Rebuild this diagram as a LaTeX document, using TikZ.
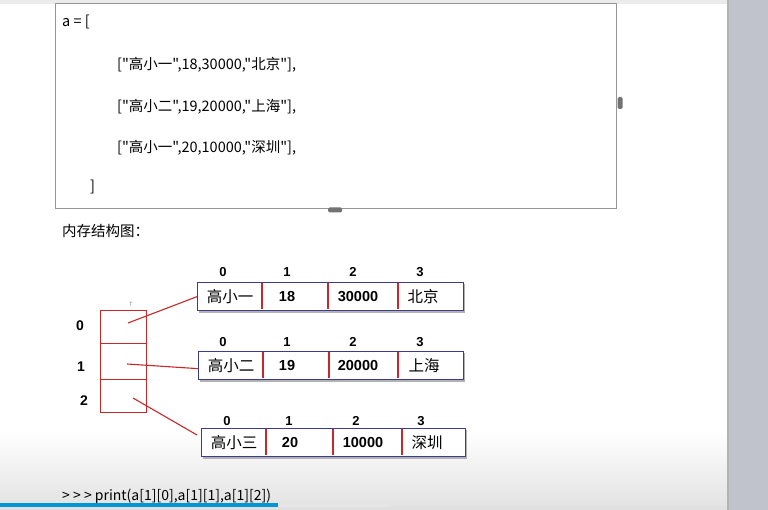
\documentclass[tikz,border=0pt]{standalone}
\usepackage{fontspec}
\setmainfont{Liberation Sans}
\newfontfamily\cjk{Noto Sans CJK SC}
\usetikzlibrary{calc}
\definecolor{navy}{RGB}{60,60,140}
\definecolor{cellred}{RGB}{200,40,40}
\definecolor{panel}{RGB}{192,194,204}
\definecolor{boxgray}{RGB}{150,150,150}
\definecolor{barblue}{RGB}{0,150,214}
\tikzset{
  rowbox/.style={draw=navy,line width=1.3pt,fill=white,minimum height=28pt,inner sep=0pt,anchor=north west},
  celltxt/.style={font=\bfseries\fontsize{14.5}{14.5}\selectfont,inner sep=0pt},
  cjktxt/.style={font=\cjk\fontsize{15.5}{15.5}\selectfont,inner sep=0pt},
  idx/.style={font=\bfseries\fontsize{13}{13}\selectfont,inner sep=0pt},
  code/.style={font=\cjk\fontsize{14.5}{14.5}\selectfont,inner sep=0pt,anchor=west},
  stackcell/.style={draw=cellred,line width=0.9pt,minimum width=46pt,inner sep=0pt,anchor=north west},
  link/.style={draw=cellred,line width=1.1pt},
  divider/.style={draw=cellred,line width=1.1pt},
}
\begin{document}
\begin{tikzpicture}[x=1pt,y=-1pt]
\useasboundingbox (0,0) rectangle (768,510);
% background
\fill[white] (0,0) rectangle (768,510);
\shade[top color=white,bottom color=black!11] (0,430) rectangle (727,506);
\fill[black!8] (0,0) rectangle (727,4);
\fill[black!12] (0,506) rectangle (727,510);
\fill[panel] (727,0) rectangle (768,510);
\fill[black!30] (727,0) rectangle (729,510);
% code box
\draw[boxgray,line width=0.9pt] (55,3) rectangle (616,208);
\node[fill=black!55,rounded corners=1.5pt,minimum width=5pt,minimum height=12pt,inner sep=0pt] (hr) at (620,103) {};
\node[fill=black!55,rounded corners=1.5pt,minimum width=14pt,minimum height=5pt,inner sep=0pt] (hb) at (335,210) {};
\node[font=\fontsize{5}{5}\selectfont,text=black!50,inner sep=0pt] (hc) at (621,212) {$\cdot$};
\node[code] (c0) at (62,22) {a = [};
\node[code] (c1) at (117,65) {["高小一",18,30000,"北京"],};
\node[code] (c2) at (117,107) {["高小二",19,20000,"上海"],};
\node[code] (c3) at (117,148) {["高小一",20,10000,"深圳"],};
\node[code] (c4) at (90,187) {]};
\node[code] (title) at (62,231) {内存结构图：};
% stack
\node[stackcell,minimum height=33pt] (s0) at (100,310) {};
\node[stackcell,minimum height=36pt] (s1) at (100,343) {};
\node[stackcell,minimum height=33pt] (s2) at (100,379) {};
\node[font=\fontsize{6}{6}\selectfont,text=black!45,inner sep=0pt] (tmark) at (131,304) {T};
\node[idx,font=\bfseries\fontsize{14}{14}\selectfont] (i0) at (80,326) {0};
\node[idx,font=\bfseries\fontsize{14}{14}\selectfont] (i1) at (81,367) {1};
\node[idx,font=\bfseries\fontsize{14}{14}\selectfont] (i2) at (84,401) {2};
\coordinate (p0) at (128,323);
\coordinate (p1) at (127,364);
\coordinate (p2) at (133,398);
% rows
\foreach \r/\x/\y/\w in {1/197/282/266, 2/198/351/265, 3/201/428/264}{
  \fill[black!30] (\x+2,\y+2) rectangle (\x+\w+2,\y+31);
  \node[rowbox,minimum width=\w pt] (r\r) at (\x,\y) {};
}
% dividers
\foreach \r/\a/\b/\c/\y in {1/262/328/398/282, 2/263/329/398/351, 3/266/333/402/428}{
  \draw[divider] (\a,\y+1) -- (\a,\y+27);
  \draw[divider] (\b,\y+1) -- (\b,\y+27);
  \draw[divider] (\c,\y+1) -- (\c,\y+27);
}
% row 1
\node[cjktxt] (a10) at (230,297) {高小一};
\node[celltxt] (a11) at (287,297) {18};
\node[celltxt] (a12) at (358,297) {30000};
\node[cjktxt] (a13) at (423,297) {北京};
\node[idx] (h10) at (223,272) {0};
\node[idx] (h11) at (287,272) {1};
\node[idx] (h12) at (353,272) {2};
\node[idx] (h13) at (420,272) {3};
% row 2
\node[cjktxt] (a20) at (231,366) {高小二};
\node[celltxt] (a21) at (287,366) {19};
\node[celltxt] (a22) at (358,366) {20000};
\node[cjktxt] (a23) at (424,366) {上海};
\node[idx] (h20) at (223,342) {0};
\node[idx] (h21) at (287,342) {1};
\node[idx] (h22) at (353,342) {2};
\node[idx] (h23) at (420,342) {3};
% row 3
\node[cjktxt] (a30) at (234,443) {高小三};
\node[celltxt] (a31) at (290,443) {20};
\node[celltxt] (a32) at (363,443) {10000};
\node[cjktxt] (a33) at (427,443) {深圳};
\node[idx] (h30) at (227,421) {0};
\node[idx] (h31) at (289,421) {1};
\node[idx] (h32) at (356,421) {2};
\node[idx] (h33) at (421,421) {3};
% links
\draw[link] (p0) -- (r1.west);
\draw[link] (p1) -- ([yshift=-3pt]r2.west);
\draw[link] (p2) -- ([shift={(-4,7)}]r3.north west);
% prompt
\node[code,font=\cjk\fontsize{14}{14}\selectfont] (prompt) at (62,496) {> > > print(a[1][0],a[1][1],a[1][2])};
\fill[black!10] (0,503) rectangle (390,507);
\fill[barblue] (0,503) rectangle (278,507);
\end{tikzpicture}
\end{document}
